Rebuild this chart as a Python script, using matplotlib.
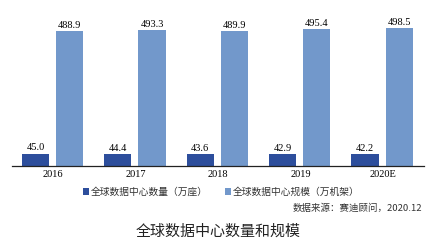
import matplotlib
matplotlib.use("Agg")
import matplotlib.pyplot as plt
import numpy as np

years = ["2016", "2017", "2018", "2019", "2020E"]
count_values = [45.0, 44.4, 43.6, 42.9, 42.2]
scale_values = [488.9, 493.3, 489.9, 495.4, 498.5]
series_names = ["全球数据中心数量（万座）", "全球数据中心规模（万机架）"]
source_text = "数据来源：赛迪顾问，2020.12"
title_text = "全球数据中心数量和规模"

dark = "#2D4E9C"
light = "#7298CB"
serif = ["Liberation Serif", "DejaVu Serif"]
cjk = ["Noto Sans CJK SC", "DejaVu Sans"]

fig = plt.figure(figsize=(4.4, 2.44), dpi=100)
ax = fig.add_axes([12/440, 1-166/244, 412/440, 0.679])
x = np.arange(len(years))
w = 0.33
b1 = ax.bar(x - 0.215, count_values, w, color=dark, label=series_names[0])
b2 = ax.bar(x + 0.2, scale_values, w, color=light, label=series_names[1])
for rect, v in zip(b1, count_values):
    ax.text(rect.get_x() + rect.get_width()/2, v + 4, f"{v:.1f}", ha="center", va="bottom",
            fontsize=7.5, family=serif)
for rect, v in zip(b2, scale_values):
    ax.text(rect.get_x() + rect.get_width()/2, v + 4, f"{v:.1f}", ha="center", va="bottom",
            fontsize=7.5, family=serif)
ax.set_xlim(-0.5, len(years) - 0.5)
ax.set_ylim(0, 600)
ax.set_xticks(x)
ax.set_xticklabels(years, family=serif, fontsize=7.5)
ax.tick_params(axis="x", length=0, pad=3)
ax.set_yticks([])
for s in ["top", "right", "left"]:
    ax.spines[s].set_visible(False)
ax.spines["bottom"].set_color("#222222")
ax.spines["bottom"].set_linewidth(0.9)

leg = fig.legend(handles=[b1, b2], loc="center", bbox_to_anchor=(221.5/440, 1-192/244), ncol=2,
                 frameon=False, prop={"family": cjk, "size": 7},
                 handlelength=0.6, handleheight=0.6, handletextpad=0.2, columnspacing=1.8)
for t in leg.get_texts():
    t.set_color("#333333")

fig.text(422/440, 1-208/244, source_text, ha="right", va="center", fontsize=6.8,
         family=cjk, color="#333333")
fig.text(218/440, 1-232/244, title_text, ha="center", va="center", fontsize=10.8,
         family=cjk, color="#222222")

fig.savefig("out.png", dpi=100)
